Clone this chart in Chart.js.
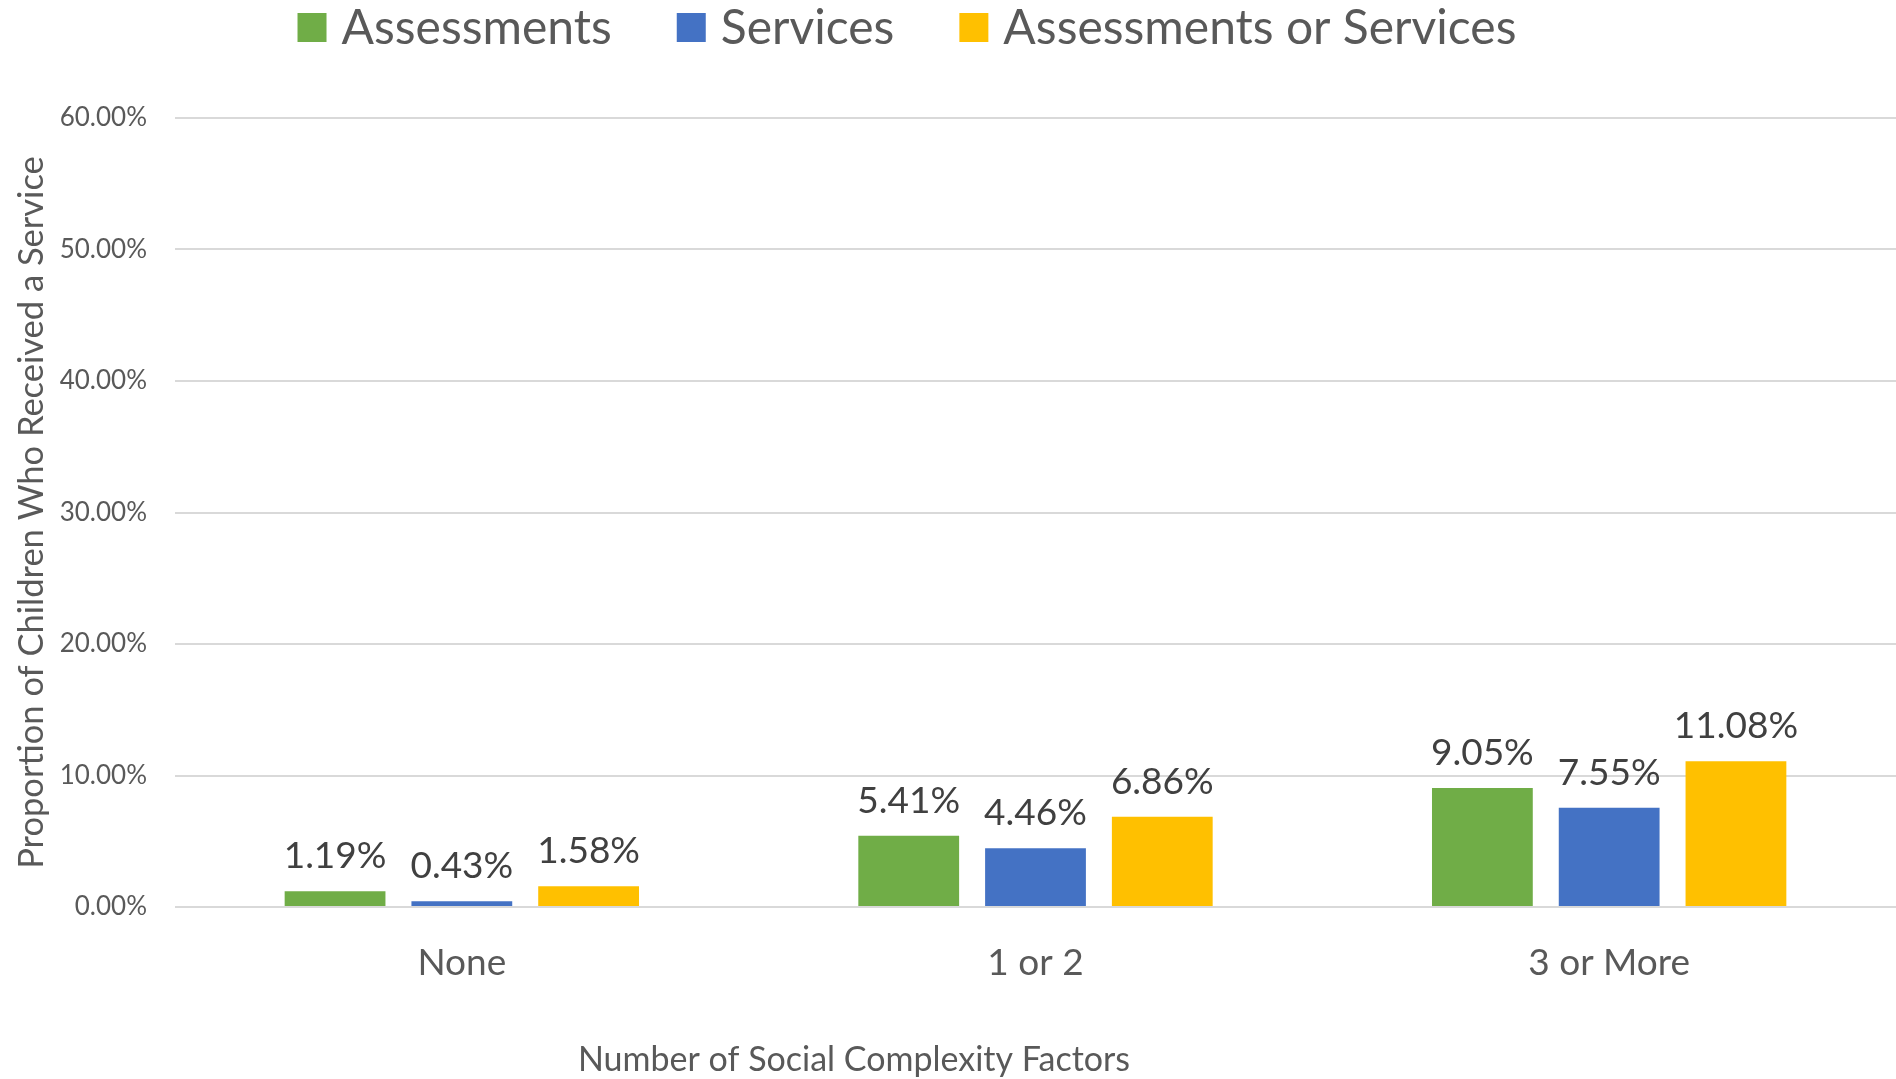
<!DOCTYPE html>
<html>
<head>
<meta charset="utf-8">
<script src="https://cdn.jsdelivr.net/npm/chart.js@4.4.1/dist/chart.umd.min.js"></script>
<style>
  html, body { margin: 0; padding: 0; background: #fff; }
  canvas { display: block; }
</style>
</head>
<body>
<canvas id="serviceChart" width="1896" height="1079"></canvas>
<script>
// categories along the x axis
const categories = ['None', '1 or 2', '3 or More'];

// percent of children, per series
const assessments = [1.19, 5.41, 9.05];
const services = [0.43, 4.46, 7.55];
const assessmentsOrServices = [1.58, 6.86, 11.08];

const seriesNames = ['Assessments', 'Services', 'Assessments or Services'];
const seriesColors = ['#70AD47', '#4472C4', '#FFC000'];

const yMax = 60;
const yStep = 10;

const FONT = 'Lato, "Open Sans", sans-serif';
const GREY = '#595959';

// value labels above each bar
const barLabels = {
  id: 'barLabels',
  afterDatasetsDraw(chart) {
    const ctx = chart.ctx;
    ctx.save();
    ctx.font = '37px ' + FONT;
    ctx.fillStyle = '#404040';
    ctx.textAlign = 'center';
    ctx.textBaseline = 'alphabetic';
    chart.data.datasets.forEach((ds, i) => {
      chart.getDatasetMeta(i).data.forEach((bar, j) => {
        ctx.fillText(ds.data[j].toFixed(2) + '%', bar.x, bar.y - 23);
      });
    });
    ctx.restore();
  }
};

// legend row across the top and the x axis title
const legendAndTitle = {
  id: 'legendAndTitle',
  afterDraw(chart) {
    const ctx = chart.ctx;
    ctx.save();
    ctx.font = '48px ' + FONT;
    ctx.textBaseline = 'middle';
    ctx.textAlign = 'left';
    const box = 29, gapText = 15, gapItem = 65;
    const items = chart.data.datasets.map(ds => ({
      label: ds.label,
      color: ds.backgroundColor,
      w: ctx.measureText(ds.label).width
    }));
    let total = 0;
    items.forEach((it, i) => { total += box + gapText + it.w + (i ? gapItem : 0); });
    let x = 907 - total / 2;
    items.forEach(it => {
      ctx.fillStyle = it.color;
      ctx.fillRect(x, 13, box, box);
      ctx.fillStyle = GREY;
      ctx.fillText(it.label, x + box + gapText, 29);
      x += box + gapText + it.w + gapItem;
    });

    ctx.font = '34px ' + FONT;
    ctx.textAlign = 'center';
    ctx.fillText('Number of Social Complexity Factors', 854, 1060);
    ctx.restore();
  }
};

const ctx = document.getElementById('serviceChart').getContext('2d');
new Chart(ctx, {
  type: 'bar',
  data: {
    labels: categories,
    datasets: [assessments, services, assessmentsOrServices].map((vals, i) => ({
      label: seriesNames[i],
      data: vals,
      backgroundColor: seriesColors[i],
      borderWidth: 0,
      categoryPercentage: 0.663,
      barPercentage: 0.795
    }))
  },
  options: {
    responsive: false,
    animation: false,
    devicePixelRatio: 1,
    layout: { padding: { top: 118, right: 0, bottom: 0, left: 0 } },
    plugins: {
      legend: { display: false },
      tooltip: { enabled: false }
    },
    scales: {
      x: {
        grid: { display: false },
        border: { display: false },
        ticks: { color: GREY, font: { family: FONT, size: 37 }, padding: 26, maxRotation: 0 },
        afterFit(scale) { scale.height = 172; }
      },
      y: {
        min: 0,
        max: yMax,
        border: { display: false },
        grid: { color: '#D9D9D9', lineWidth: 2, drawTicks: false },
        ticks: {
          stepSize: yStep,
          color: GREY,
          padding: 28,
          font: { family: FONT, size: 26 },
          callback: v => v.toFixed(2) + '%'
        },
        title: {
          display: true,
          text: 'Proportion of Children Who Received a Service',
          color: GREY,
          font: { family: FONT, size: 34.5 },
          padding: { top: 11, bottom: 0 }
        },
        afterFit(scale) { scale.width = 175; }
      }
    }
  },
  plugins: [barLabels, legendAndTitle]
});
</script>
</body>
</html>
